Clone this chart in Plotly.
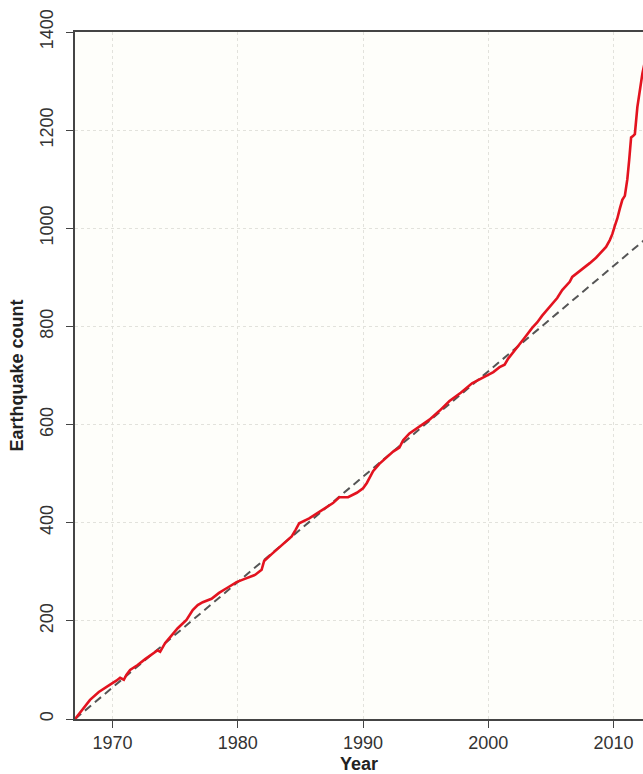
import plotly.graph_objects as go

# Cumulative earthquake count by year
years = [1967.0, 1967.6, 1968.2, 1968.9, 1969.4, 1969.8, 1970.3, 1970.6, 1970.9, 1971.1,
         1971.4, 1972.0, 1972.6, 1973.1, 1973.6, 1973.8, 1974.2, 1974.6, 1975.2, 1975.9,
         1976.4, 1976.8, 1977.2, 1977.9, 1978.5, 1979.2, 1979.9, 1980.4, 1980.9, 1981.4,
         1981.9, 1982.1, 1982.7, 1983.3, 1983.8, 1984.3, 1984.6, 1984.9, 1985.7, 1986.4,
         1987.1, 1987.6, 1988.1, 1988.8, 1989.5, 1990.0, 1990.3, 1990.8, 1991.3, 1991.9,
         1992.4, 1992.9, 1993.2, 1993.7, 1994.5, 1995.3, 1996.1, 1996.9, 1997.8, 1998.7,
         1999.3, 1999.9, 2000.4, 2000.9, 2001.3, 2001.6, 2002.0, 2002.5, 2002.9, 2003.5,
         2003.9, 2004.3, 2004.9, 2005.5, 2005.9, 2006.5, 2006.7, 2007.3, 2007.7, 2008.1,
         2008.6, 2009.1, 2009.4, 2009.7, 2009.9, 2010.1, 2010.3, 2010.5, 2010.7, 2010.9,
         2011.1, 2011.25, 2011.4, 2011.55, 2011.7, 2011.9, 2012.1, 2012.3, 2012.5]
counts = [0, 20, 39, 55, 64, 70, 78, 84, 80, 90,
          100, 110, 122, 131, 140, 137, 155, 167, 185, 202,
          222, 232, 238, 245, 257, 268, 279, 284, 289, 294,
          304, 322, 336, 350, 360, 372, 385, 399, 409, 421,
          432, 440, 452, 452, 461, 470, 481, 505, 520, 534,
          545, 553, 568, 582, 596, 610, 628, 648, 665, 684,
          692, 700, 707, 717, 722, 735, 748, 762, 777, 797,
          808, 822, 840, 858, 874, 891, 901, 913, 920, 929,
          940, 954, 962, 976, 988, 1005, 1020, 1040, 1058, 1066,
          1100, 1140, 1185, 1188, 1192, 1247, 1283, 1315, 1340]

# Constant-rate reference line
trend_years = [1967.0, 2012.5]
trend_counts = [0, 977]

x_ticks = [1970, 1980, 1990, 2000, 2010]
y_ticks = [0, 200, 400, 600, 800, 1000, 1200, 1400]

font_family = "Liberation Sans, Arial, Helvetica, sans-serif"

fig = go.Figure()
fig.add_trace(go.Scatter(
    x=trend_years, y=trend_counts, mode="lines",
    line=dict(color="#555555", width=2, dash="8px,5px"),
    hoverinfo="skip", showlegend=False,
))
fig.add_trace(go.Scatter(
    x=years, y=counts, mode="lines",
    line=dict(color="#e3131f", width=2.6),
    showlegend=False,
))

axis_common = dict(
    showline=True, linecolor="#444444", linewidth=1.5,
    ticks="outside", ticklen=7, tickwidth=1.2, tickcolor="#444444",
    showgrid=True, gridcolor="#e2e2dc", gridwidth=1, griddash="dot",
    zeroline=False,
    tickfont=dict(family=font_family, size=18, color="#333333"),
)

fig.update_xaxes(
    range=[1967.0, 2012.35], tickvals=x_ticks, mirror=True,
    title=dict(text="<b>Year</b>", standoff=13,
               font=dict(family=font_family, size=18, color="#222222")),
    **axis_common,
)
fig.update_yaxes(
    range=[0, 1400], tickvals=y_ticks, tickangle=-90, ticklabelstandoff=6,
    title=dict(text="<b>Earthquake count</b>", standoff=9,
               font=dict(family=font_family, size=18, color="#222222")),
    **axis_common,
)

fig.update_layout(
    width=643, height=774,
    margin=dict(l=75, r=0, t=32, b=55, autoexpand=False),
    plot_bgcolor="#fefefa",
    paper_bgcolor="#ffffff",
)

fig.write_html("out.html")
